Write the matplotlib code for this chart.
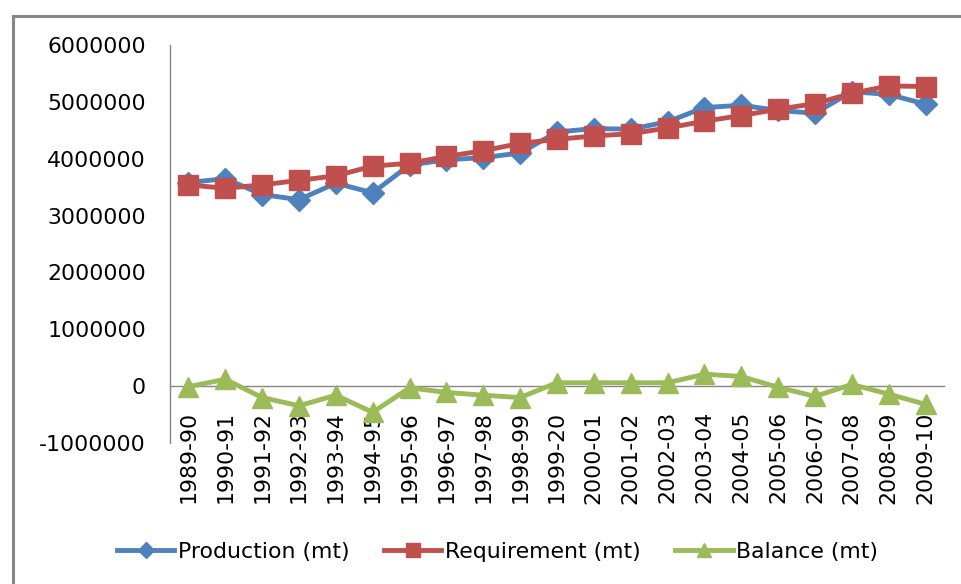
import matplotlib
matplotlib.use("Agg")
import matplotlib.pyplot as plt
from matplotlib.patches import Rectangle

years = ["1989-90", "1990-91", "1991-92", "1992-93", "1993-94", "1994-95",
         "1995-96", "1996-97", "1997-98", "1998-99", "1999-20", "2000-01",
         "2001-02", "2002-03", "2003-04", "2004-05", "2005-06", "2006-07",
         "2007-08", "2008-09", "2009-10"]
production = [3580000, 3650000, 3370000, 3280000, 3570000, 3400000,
              3890000, 3980000, 4020000, 4100000, 4470000, 4530000,
              4520000, 4650000, 4900000, 4940000, 4850000, 4800000,
              5180000, 5130000, 4960000]
requirement = [3540000, 3480000, 3540000, 3620000, 3700000, 3870000,
               3920000, 4040000, 4140000, 4270000, 4340000, 4400000,
               4440000, 4540000, 4660000, 4760000, 4870000, 4970000,
               5150000, 5280000, 5270000]
balance = [-10000, 120000, -200000, -345000, -160000, -460000,
           -30000, -110000, -160000, -200000, 60000, 60000,
           60000, 60000, 210000, 170000, -20000, -180000,
           30000, -140000, -320000]

plt.rcParams['font.family'] = ['DejaVu Sans']
FS = 15.8

fig = plt.figure(figsize=(9.61, 5.84), dpi=100)
ax = fig.add_axes([170/961, 1-443/584, (944-170)/961, (443-45)/584])

# chart frame (only left and top edges visible)
fig.patches.append(Rectangle((13/961, -0.1), 1.2, 1-16/584+0.1,
                             transform=fig.transFigure, fill=False,
                             edgecolor='#878787', linewidth=2.2))

x = list(range(len(years)))
ax.plot(x, production, color='#4F81BD', lw=3.5, marker='D', ms=11.5,
        label='Production (mt)', zorder=3)
ax.plot(x, requirement, color='#C0504D', lw=3.5, marker='s', ms=14,
        label='Requirement (mt)', zorder=4)
ax.plot(x, balance, color='#9BBB59', lw=3.5, marker='^', ms=14,
        label='Balance (mt)', zorder=3)

for s in ['top', 'right']:
    ax.spines[s].set_visible(False)
ax.spines['bottom'].set_position(('data', 0))
for s in ['left', 'bottom']:
    ax.spines[s].set_color('#868686')
    ax.spines[s].set_linewidth(1)
    ax.spines[s].set_zorder(1)

ax.set_xlim(-0.5, len(years) - 0.5)
ax.set_ylim(-1000000, 6000000)
ax.set_yticks(range(-1000000, 6000001, 1000000))
ax.set_yticklabels([str(v) for v in range(-1000000, 6000001, 1000000)])
ax.set_xticks(x)
ax.set_xticklabels(years)
ax.tick_params(axis='both', length=0, labelsize=FS, colors='black')
ax.tick_params(axis='y', pad=17.3)
ax.tick_params(axis='x', pad=18, labelrotation=90)

leg = fig.legend(loc='center', bbox_to_anchor=(0.5 + 17/961, 1-552/584), ncol=3,
                 frameon=False, fontsize=FS, handlelength=2.6,
                 handletextpad=0.15, columnspacing=1.6, markerscale=0.75)

fig.savefig('out.png', dpi=100)
